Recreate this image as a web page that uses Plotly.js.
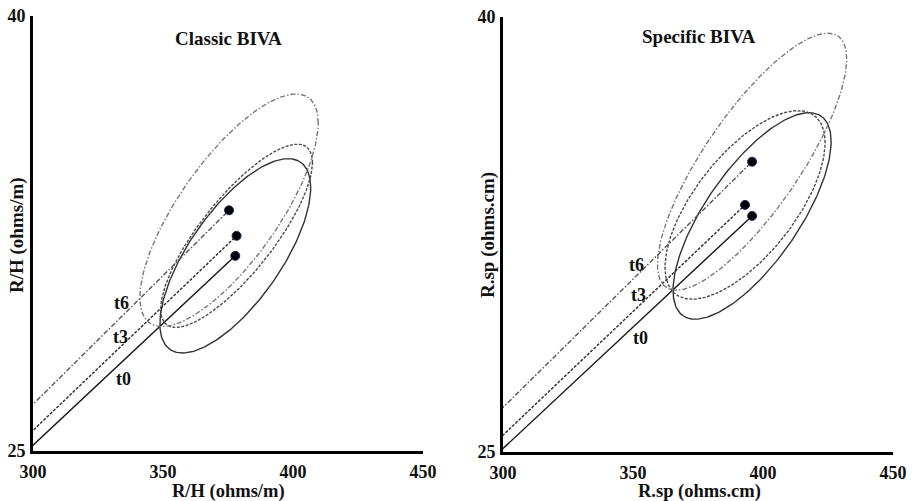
<!DOCTYPE html>
<html>
<head>
<meta charset="utf-8">
<script src="https://cdn.plot.ly/plotly-3.0.1.min.js"></script>
<style>html,body{margin:0;padding:0;background:#fff;}#chart{width:912px;height:501px;}</style>
</head>
<body>
<div id="chart"></div>
<script>
// ---- data ----
const timepoints = ['t0', 't3', 't6'];

// Classic BIVA: mean vectors (R/H, Xc/H)
const classicX = [377.8, 378.3, 375.4];
const classicY = [31.73, 32.42, 33.30];
// tolerance ellipses: half-width (x), half-height (y), correlation
const classicSdX = [29.0, 29.2, 34.3];
const classicSdY = [3.35, 3.16, 4.01];
const classicCorr = [0.70, 0.80, 0.75];

// Specific BIVA: mean vectors (R.sp, Xc.sp)
const specificX = [395.8, 393.1, 395.8];
const specificY = [33.14, 33.52, 35.01];
const specificSdX = [30.4, 30.8, 36.4];
const specificSdY = [3.56, 3.25, 4.43];
const specificCorr = [0.72, 0.66, 0.80];

const xTicks = [300, 350, 400, 450];
const yTicks = [25, 40];
const panelTitles = ['Classic BIVA', 'Specific BIVA'];
const xTitles = ['R/H (ohms/m)', 'R.sp (ohms.cm)'];
const yTitles = ['R/H (ohms/m)', 'R.sp (ohms.cm)'];

// ---- styles ----
const FONT = 'Liberation Serif, DejaVu Serif, serif';
const lineDash = ['solid', '3px,1.5px', '5px,2px,1.5px,2px'];
const vecColor = ['#151515', '#2a2a2a', '#555'];
const ellColor = ['#333', '#4a4a4a', '#777'];

function ellipse(cx, cy, sx, sy, r, n) {
  const d = Math.acos(r);
  const xs = [], ys = [];
  for (let i = 0; i <= n; i++) {
    const t = 2 * Math.PI * i / n;
    xs.push(cx + sx * Math.cos(t));
    ys.push(cy + sy * Math.cos(t - d));
  }
  return {xs, ys};
}

const traces = [];
function addPanel(mx, my, sdx, sdy, corr, xa, ya) {
  for (let i = 0; i < timepoints.length; i++) {
    const e = ellipse(mx[i], my[i], sdx[i], sdy[i], corr[i], 240);
    traces.push({x: e.xs, y: e.ys, xaxis: xa, yaxis: ya, mode: 'lines', hoverinfo: 'skip',
      line: {color: ellColor[i], width: 1.4, dash: lineDash[i]}, showlegend: false});
    traces.push({x: [0, mx[i]], y: [0, my[i]], xaxis: xa, yaxis: ya, mode: 'lines', name: timepoints[i],
      line: {color: vecColor[i], width: 1.4, dash: lineDash[i]}, showlegend: false});
  }
  traces.push({x: mx, y: my, xaxis: xa, yaxis: ya, mode: 'markers', showlegend: false,
    marker: {symbol: 'circle', size: 9, color: '#000', line: {color: '#1b2a6b', width: 1}}});
}
addPanel(classicX, classicY, classicSdX, classicSdY, classicCorr, 'x', 'y');
addPanel(specificX, specificY, specificSdX, specificSdY, specificCorr, 'x2', 'y2');

const axCommon = {
  showgrid: false, zeroline: false, showline: true, linecolor: '#000', linewidth: 3,
  ticks: '', tickmode: 'array', tickfont: {family: FONT, size: 18, color: '#111', weight: 'bold'},
  mirror: false, fixedrange: true
};

function txt(xref, yref, x, y, text, size, angle) {
  return {xref, yref, x, y, text, showarrow: false, xanchor: 'center', yanchor: 'middle',
    textangle: angle || 0, font: {family: FONT, size, color: '#111', weight: 'bold'}};
}

const layout = {
  width: 912, height: 501,
  margin: {l: 0, r: 0, t: 0, b: 0},
  paper_bgcolor: '#fff', plot_bgcolor: '#fff',
  showlegend: false,
  xaxis: Object.assign({}, axCommon, {domain: [33/912, 423/912], range: [300, 450], tickvals: xTicks, anchor: 'y', ticklabelstandoff: 2}),
  yaxis: Object.assign({}, axCommon, {domain: [50/501, 485/501], range: [25, 40], tickvals: yTicks, anchor: 'x', ticklabelstandoff: 1}),
  xaxis2: Object.assign({}, axCommon, {domain: [503/912, 893/912], range: [300, 450], tickvals: xTicks, anchor: 'y2', ticklabelstandoff: 2}),
  yaxis2: Object.assign({}, axCommon, {domain: [49/501, 484/501], range: [25, 40], tickvals: yTicks, anchor: 'x2', ticklabelstandoff: 1}),
  annotations: [
    txt('paper', 'paper', 228/912, 1 - 38/501, panelTitles[0], 19),
    txt('paper', 'paper', 698/912, 1 - 37/501, panelTitles[1], 19),
    txt('paper', 'paper', 228/912, 1 - 491/501, xTitles[0], 18.5),
    txt('paper', 'paper', 699/912, 1 - 491/501, xTitles[1], 18.5),
    txt('paper', 'paper', 17/912, 1 - 235/501, yTitles[0], 19, -90),
    txt('paper', 'paper', 488/912, 1 - 235/501, yTitles[1], 19, -90),
    // time labels
    txt('x', 'y', 334.7, 27.5, timepoints[0], 18),
    txt('x', 'y', 333.5, 28.94, timepoints[1], 18),
    txt('x', 'y', 334.1, 30.09, timepoints[2], 18),
    txt('x2', 'y2', 352.7, 28.92, timepoints[0], 18),
    txt('x2', 'y2', 352.0, 30.41, timepoints[1], 18),
    txt('x2', 'y2', 351.4, 31.45, timepoints[2], 18)
  ]
};

Plotly.newPlot('chart', traces, layout, {displayModeBar: false, staticPlot: true});
</script>
</body>
</html>
